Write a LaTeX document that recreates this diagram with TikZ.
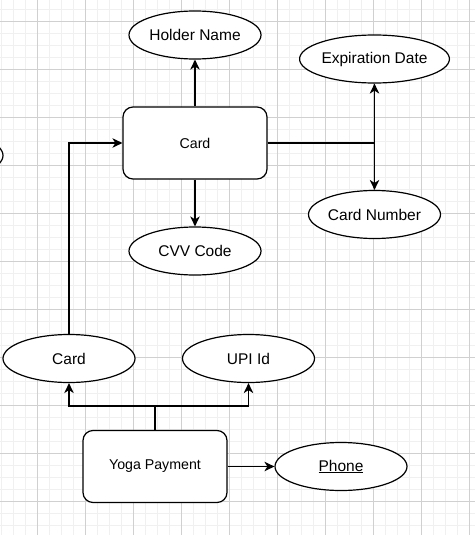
\documentclass[tikz,border=0pt]{standalone}
\usepackage{fontspec}
\setmainfont{Liberation Sans}
\usetikzlibrary{shapes.geometric,arrows.meta}
\definecolor{gridminor}{RGB}{240,240,240}
\definecolor{gridmajor}{RGB}{208,208,208}
\tikzset{
  attr/.style={ellipse,draw,line width=1.2pt,fill=white,minimum width=132pt,minimum height=48pt,inner sep=0pt,font=\fontsize{15.5}{18}\selectfont},
  entity/.style={rectangle,rounded corners=10pt,draw,line width=1.2pt,fill=white,minimum width=144pt,minimum height=72pt,inner sep=0pt,font=\fontsize{14.2}{17}\selectfont},
  conn/.style={line width=1.2pt},
  arr/.style={conn,-{Stealth[length=10pt,width=9.5pt,inset=3pt]}}
}
\begin{document}
\begin{tikzpicture}[x=1pt,y=-1pt]
\useasboundingbox (0,0) rectangle (475,535);
\clip (0,0) rectangle (475,535);
\fill[white] (0,0) rectangle (475,535);
% grid
\foreach \i in {0,...,39} {
  \draw[gridminor,line width=0.8pt] ({1.3+12*\i},0) -- ({1.3+12*\i},535);
}
\foreach \i in {0,...,44} {
  \draw[gridminor,line width=0.8pt] (0,{9.7+12*\i}) -- (475,{9.7+12*\i});
}
\foreach \i in {0,...,9} {
  \draw[gridmajor,line width=0.8pt] ({37.3+48*\i},0) -- ({37.3+48*\i},535);
}
\foreach \i in {0,...,11} {
  \draw[gridmajor,line width=0.8pt] (0,{21.7+48*\i}) -- (475,{21.7+48*\i});
}
% nodes
\node[attr] (stub) at (-63,155.5) {};
\node[attr] (holder) at (195,35) {Holder Name};
\node[attr] (exp) at (374.5,59) {Expiration Date};
\node[entity] (card) at (195,143) {Card};
\node[attr] (cnum) at (374.5,214.5) {Card Number};
\node[attr] (cvv) at (195,251) {CVV Code};
\node[attr] (lcard) at (69,358.5) {Card};
\node[attr] (upi) at (248.5,358.5) {UPI Id};
\node[entity] (yoga) at (155,466.5) {Yoga Payment};
\node[attr] (phone) at (341,466.5) {\underline{Phone}};
\coordinate (j1) at (374.5,143);
\coordinate (j2) at (155,406);
% connectors
\draw[arr] (card.north) -- (holder.south);
\draw[arr] (card.south) -- (cvv.north);
\draw[conn] (card.east) -- (j1);
\draw[arr] (j1) -- (exp.south);
\draw[arr] (j1) -- (cnum.north);
\draw[arr] (lcard.north) |- (card.west);
\draw[conn] (yoga.north) -- (j2);
\draw[arr] (j2) -| (lcard.south);
\draw[arr] (j2) -| (upi.south);
\draw[arr] (yoga.east) -- (phone.west);
\end{tikzpicture}
\end{document}
